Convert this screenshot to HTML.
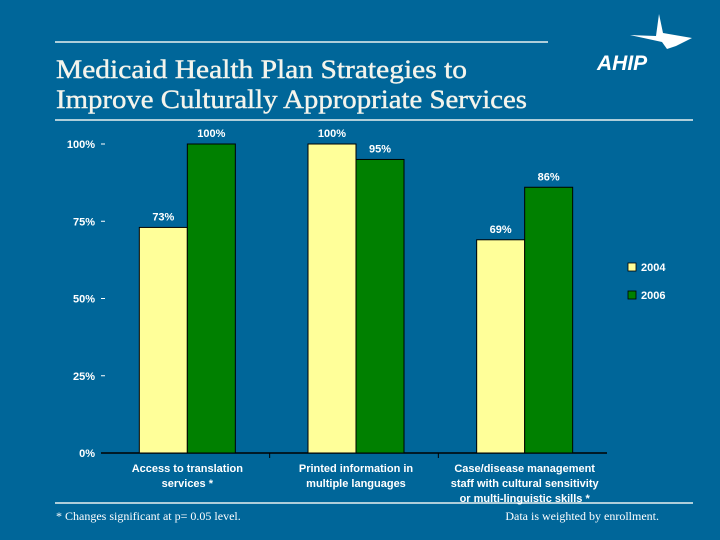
<!DOCTYPE html>
<html><head><meta charset="utf-8"><style>
html,body{margin:0;padding:0}
body{width:720px;height:540px;background:#006699;position:relative;overflow:hidden;font-family:"Liberation Sans",sans-serif}
</style></head><body>
<svg width="720" height="540" style="position:absolute;left:0;top:0">
<line x1="55" y1="42" x2="548" y2="42" stroke="#e8f0f0" stroke-width="1.5"/>
<line x1="55" y1="120" x2="693" y2="120" stroke="#e8f0f0" stroke-width="1.5"/>
<line x1="55" y1="503" x2="693" y2="503" stroke="#e8f0f0" stroke-width="1.5"/>
<text font-family="Liberation Serif, serif" font-size="26" fill="#f4f4ec" stroke="#f4f4ec" stroke-width="0.4"><tspan x="56" y="78" textLength="411" lengthAdjust="spacingAndGlyphs">Medicaid Health Plan Strategies to</tspan><tspan x="56" y="108" textLength="471" lengthAdjust="spacingAndGlyphs">Improve Culturally Appropriate Services</tspan></text>
<g>
<polygon points="659,14 663,33 692,38 676,46 667,49 662,42 630,35 656,36" fill="#fff"/>
<text x="597" y="70" font-size="21" font-weight="bold" font-style="italic" fill="#fff">AHIP</text>
</g>
<g id="plot"></g>
<text x="56" y="520" font-family="Liberation Serif, serif" font-size="12" fill="#fff">* Changes significant at p= 0.05 level.</text>
<text x="659" y="520" text-anchor="end" font-family="Liberation Serif, serif" font-size="12" fill="#fff">Data is weighted by enrollment.</text>
</svg>
<script>
const categories=[["Access to translation","services *"],["Printed information in","multiple languages"],["Case/disease management","staff with cultural sensitivity","or multi-linguistic skills *"]];
const series2004=[73,100,69];
const series2006=[100,95,86];
const seriesNames=["2004","2006"];
const yTicks=[0,25,50,75,100];
const NS="http://www.w3.org/2000/svg";
const g=document.getElementById('plot');
const x0=101,x1=607,yTop=144,yBot=453;
const bw=(x1-x0)/categories.length;
const y=v=>yBot-(v/100)*(yBot-yTop);
function mk(t,a,p){const e=document.createElementNS(NS,t);for(const k in a)e.setAttribute(k,a[k]);(p||g).appendChild(e);return e;}
yTicks.forEach(v=>{
 const tx=mk('text',{x:95,y:y(v)+4,'text-anchor':'end','font-size':11,'font-weight':'bold',fill:'#fff'});
 
 
 tx.textContent=v+'%';
 const tl=mk('line',{x1:101,x2:105,y1:y(v),y2:y(v),stroke:'#fff'});
 
 
});
const base=mk('line',{x1:x0,x2:x1,y1:yBot,y2:yBot,stroke:'#000','stroke-width':1.5});


const colors=['#ffff99','#008000'];
const data=[series2004,series2006];
categories.forEach((c,i)=>{
 const cx=x0+bw*(i+0.5);
 if(i>0){const d=mk('line',{x1:x0+bw*i,x2:x0+bw*i,y1:yBot,y2:yBot+5,stroke:'#000'});
  
  }
 data.forEach((s,j)=>{
  const bx=cx-46+j*48;
  const r=mk('rect',{x:bx,y:y(s[i]),width:48,height:yBot-y(s[i]),fill:colors[j],stroke:'#000','stroke-width':1});
  
  
  const l=mk('text',{x:bx+24,y:y(s[i])-7,'text-anchor':'middle','font-size':11,'font-weight':'bold',fill:'#fff'});
  
  
  l.textContent=s[i]+'%';
 });
 c.forEach((line,k)=>{
  const t=mk('text',{x:cx+2,y:472+k*15,'text-anchor':'middle','font-size':11,'font-weight':'bold',fill:'#fff'});
  
  
  t.textContent=line;
 });
});
seriesNames.forEach((n,j)=>{
 const ly=263+j*28;
 const b=mk('rect',{x:628,y:ly,width:8,height:8,fill:colors[j],stroke:'#000','stroke-width':0.8});
 
 
 const t=mk('text',{x:641,y:ly+8,'font-size':11,'font-weight':'bold',fill:'#fff'});
 
 
 t.textContent=n;
});
</script>
</body></html>
